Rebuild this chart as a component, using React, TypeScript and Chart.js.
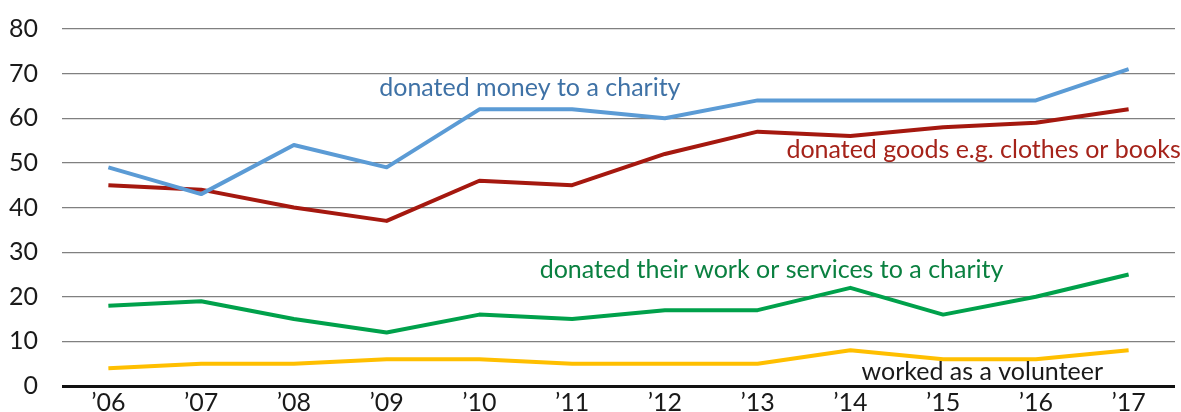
import React, { useEffect, useRef } from "react";
import { Chart, registerables } from "chart.js";

Chart.register(...registerables);

const years = ["’06", "’07", "’08", "’09", "’10", "’11", "’12", "’13", "’14", "’15", "’16", "’17"];
const money = [49, 43, 54, 49, 62, 62, 60, 64, 64, 64, 64, 71];
const goods = [45, 44, 40, 37, 46, 45, 52, 57, 56, 58, 59, 62];
const work = [18, 19, 15, 12, 16, 15, 17, 17, 22, 16, 20, 25];
const volunteer = [4, 5, 5, 6, 6, 5, 5, 5, 8, 6, 6, 8];

const seriesNames = [
  "donated money to a charity",
  "donated goods e.g. clothes or books",
  "donated their work or services to a charity",
  "worked as a volunteer",
];
const lineColors = ["#5b9bd5", "#a5180f", "#00a14b", "#ffbf00"];
const textColors = ["#3f72a6", "#a5231a", "#0a8040", "#1a1a1a"];
// label anchors in data coordinates: [category index (left edge), value (middle)]
const labelX = [2.92, 7.31, 4.65, 8.12];
const labelY = [66.8, 52.9, 26, 3.1];

const FONT = "Lato, 'Open Sans', sans-serif";

const labelPlugin = {
  id: "seriesLabels",
  afterDatasetsDraw(chart: any) {
    const { ctx, scales } = chart;
    const xs = scales.x;
    const ys = scales.y;
    ctx.save();
    ctx.font = `25px ${FONT}`;
    ctx.textAlign = "left";
    ctx.textBaseline = "middle";
    const step = xs.getPixelForValue(1) - xs.getPixelForValue(0);
    seriesNames.forEach((name, i) => {
      const x = xs.getPixelForValue(0) + labelX[i] * step;
      const y = ys.getPixelForValue(labelY[i]);
      ctx.fillStyle = textColors[i];
      ctx.fillText(name, x, y);
    });
    ctx.restore();
  },
};

export default function App() {
  const ref = useRef<HTMLCanvasElement>(null);
  useEffect(() => {
    document.body.style.margin = "0";
    const c = new Chart(ref.current!, {
      type: "line",
      data: {
        labels: years,
        datasets: [money, goods, work, volunteer].map((d, i) => ({
          label: seriesNames[i],
          data: d,
          borderColor: lineColors[i],
          backgroundColor: lineColors[i],
          borderWidth: 4,
          pointRadius: 0,
          tension: 0,
          borderJoinStyle: "round" as const,
        })),
      },
      options: {
        animation: false,
        responsive: false,
        maintainAspectRatio: false,
        layout: { padding: { top: 29, right: 6, left: 0, bottom: 0 } },
        plugins: { legend: { display: false }, tooltip: { enabled: false } },
        scales: {
          x: {
            offset: true,
            grid: { display: false, drawTicks: false },
            border: { display: false },
            ticks: { color: "#1a1a1a", font: { family: FONT, size: 25 }, padding: 2, maxRotation: 0 },
            afterFit: (s: any) => { s.height = 26; s.paddingLeft = 0; s.paddingRight = 0; },
          },
          y: {
            min: 0,
            max: 80,
            ticks: { stepSize: 10, color: "#1a1a1a", font: { family: FONT, size: 25 }, padding: 24 },
            grid: {
              drawTicks: false,
              color: (c: any) => (c.tick && c.tick.value === 0 ? "#111" : "#808080"),
              lineWidth: (c: any) => (c.tick && c.tick.value === 0 ? 3 : 1.2),
            },
            border: { display: false },
            afterFit: (s: any) => { s.width = 62; s.paddingTop = 0; s.paddingBottom = 0; },
          },
        },
      },
      plugins: [labelPlugin],
    });
    return () => c.destroy();
  }, []);
  return (
    <div style={{ width: 1181, height: 412 }}>
      <canvas ref={ref} width={1181} height={412} style={{ display: "block" }} />
    </div>
  );
}
